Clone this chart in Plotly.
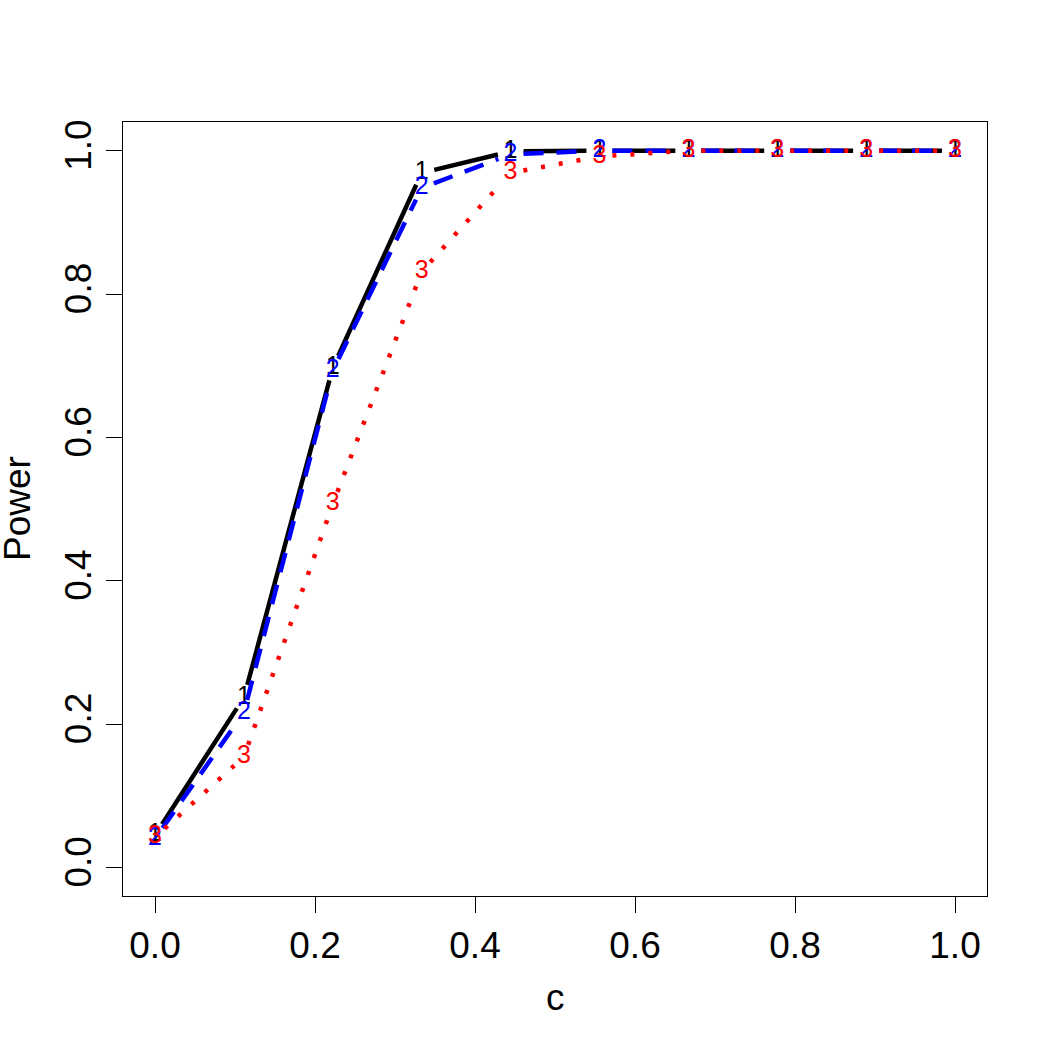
import math
import plotly.graph_objects as go

# ---- data ----
c_vals = [0.0, 1/9, 2/9, 3/9, 4/9, 5/9, 6/9, 7/9, 8/9, 1.0]
power_1 = [0.045, 0.237, 0.697, 0.969, 0.999, 1.0, 1.0, 1.0, 1.0, 1.0]
power_2 = [0.040, 0.216, 0.693, 0.948, 0.995, 1.0, 1.0, 1.0, 1.0, 1.0]
power_3 = [0.042, 0.154, 0.507, 0.831, 0.969, 0.992, 1.0, 1.0, 1.0, 1.0]
series_labels = ["1", "2", "3"]
x_ticks = [0.0, 0.2, 0.4, 0.6, 0.8, 1.0]
y_ticks = [0.0, 0.2, 0.4, 0.6, 0.8, 1.0]

# ---- layout geometry ----
W, H = 1050, 1050
ML, MR, MT, MB = 123, 63, 122, 154
XR = [-0.04, 1.04]
YR = [-0.04, 1.04]
pw = W - ML - MR
ph = H - MT - MB
sx = pw / (XR[1] - XR[0])
sy = ph / (YR[1] - YR[0])
GAP = 13.0  # px gap around point symbols (R type="b")


def gapped(xs, ys):
    gx, gy = [], []
    for i in range(len(xs) - 1):
        dx = (xs[i + 1] - xs[i]) * sx
        dy = (ys[i + 1] - ys[i]) * sy
        L = math.hypot(dx, dy)
        if L > 2 * GAP:
            f = GAP / L
            gx += [xs[i] + (xs[i + 1] - xs[i]) * f, xs[i + 1] - (xs[i + 1] - xs[i]) * f, None]
            gy += [ys[i] + (ys[i + 1] - ys[i]) * f, ys[i + 1] - (ys[i + 1] - ys[i]) * f, None]
    return gx, gy


FONT = "Liberation Sans, Arial, Helvetica, sans-serif"
styles = [
    dict(color="#000000", width=4.5, dash="solid"),
    dict(color="#0000FF", width=4.5, dash="20px,13px"),
    dict(color="#FF0000", width=4.5, dash="4px,14px"),
]

fig = go.Figure()
for ys, lab, st in zip([power_1, power_2, power_3], series_labels, styles):
    gx, gy = gapped(c_vals, ys)
    fig.add_trace(go.Scatter(x=gx, y=gy, mode="lines", line=st,
                             hoverinfo="skip", showlegend=False))
    fig.add_trace(go.Scatter(x=c_vals, y=ys, mode="text", text=[lab] * len(c_vals),
                             textposition="middle center",
                             textfont=dict(family=FONT, size=25, color=st["color"]),
                             showlegend=False))

axis_common = dict(showgrid=False, zeroline=False, showline=True, mirror=True,
                   linecolor="black", linewidth=1.2, ticks="outside", ticklen=16,
                   tickwidth=1.2, tickcolor="black",
                   tickfont=dict(family=FONT, size=37, color="black"))

fig.update_layout(
    width=W, height=H,
    margin=dict(l=ML, r=MR, t=MT, b=MB, pad=0),
    paper_bgcolor="white", plot_bgcolor="white",
    xaxis=dict(range=XR, tickvals=x_ticks, ticktext=[f"{v:.1f}" for v in x_ticks], **axis_common),
    yaxis=dict(range=YR, tickvals=y_ticks, ticktext=[f"{v:.1f}" for v in y_ticks],
               tickangle=-90, **axis_common),
    font=dict(family=FONT, color="black"),
    annotations=[
        dict(text="c", xref="paper", yref="paper", x=0.5, y=-(997 - (H - MB)) / ph,
             xanchor="center", yanchor="middle", showarrow=False,
             font=dict(family=FONT, size=37, color="black")),
        dict(text="Power", xref="paper", yref="paper", x=(17 - ML) / pw, y=0.5,
             xanchor="center", yanchor="middle", textangle=-90, showarrow=False,
             font=dict(family=FONT, size=37, color="black")),
    ],
)

fig.write_html("out.html")
